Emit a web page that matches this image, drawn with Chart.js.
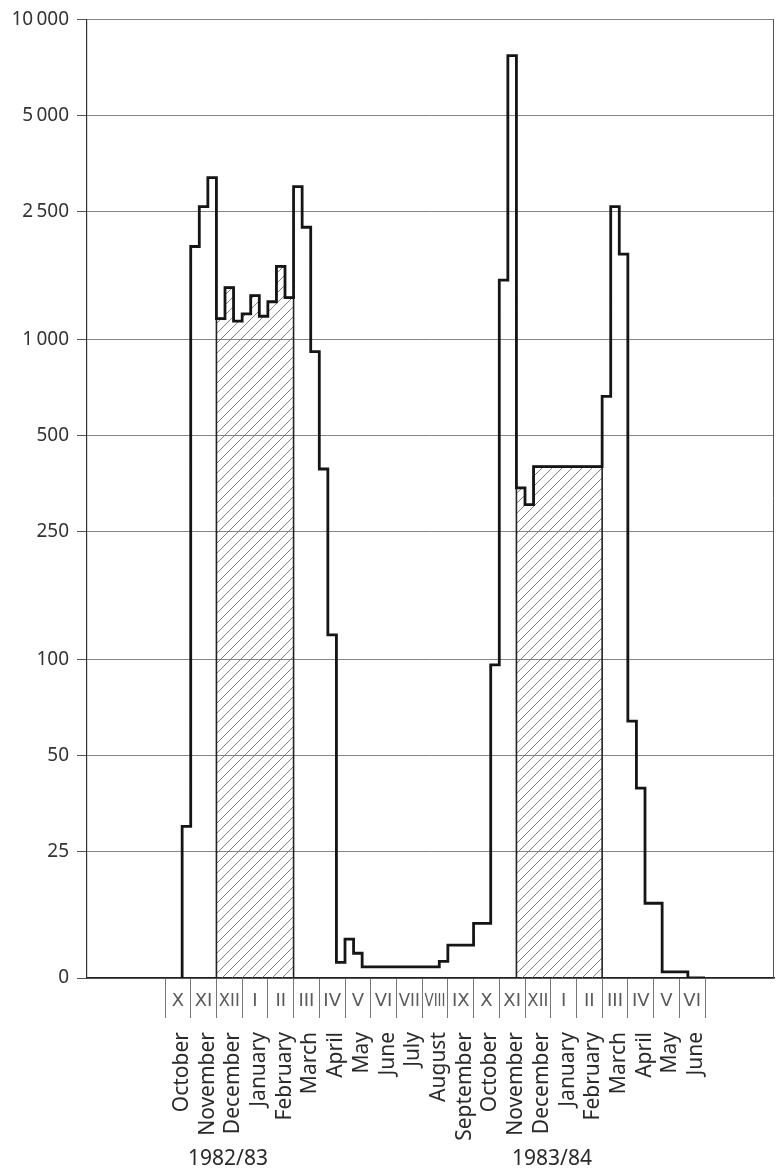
<!DOCTYPE html>
<html>
<head>
<meta charset="utf-8">
<title>Ten-day counts 1982/83 - 1983/84</title>
<script src="https://cdn.jsdelivr.net/npm/chart.js@4.4.1/dist/chart.umd.min.js"></script>
<style>
  html, body { margin: 0; padding: 0; background: #fff; }
  #wrap { position: relative; width: 776px; height: 1174px; }
</style>
</head>
<body>
<div id="wrap"><canvas id="countChart"></canvas></div>
<script>
const monthNames = [
  "October", "November", "December", "January", "February", "March", "April",
  "May", "June", "July", "August", "September",
  "October", "November", "December", "January", "February", "March", "April",
  "May", "June",
];
const romanMonths = [
  "X", "XI", "XII", "I", "II", "III", "IV", "V", "VI", "VII", "VIII", "IX",
  "X", "XI", "XII", "I", "II", "III", "IV", "V", "VI",
];
const seasonLabels = ["1982/83", "1983/84"];
const yTicks = [0, 25, 50, 100, 250, 500, 1000, 2500, 5000, 10000];

// one value per ten-day period, starting with the first third of October 1982
const tenDayCounts = [
  0, 0, 30,
  1950, 2600, 3200,
  1160, 1450, 1140,
  1200, 1370, 1180,
  1310, 1690, 1350,
  3000, 2240, 915,
  393, 119, 3.1,
  7.7, 4.9, 2.2,
  2.2, 2.2, 2.2,
  2.2, 2.2, 2.2,
  2.2, 2.2, 3.3,
  6.5, 6.5, 6.5,
  10.8, 10.8, 96,
  1530, 7700, 343,
  304, 400, 400,
  400, 400, 400,
  400, 400, 400,
  663, 2600, 1845,
  64, 39.5, 14.8,
  14.8, 1.2, 1.2,
  1.2, 0, 0,
];

// hatched winter periods, in ten-day indexes [from, to)
const hatchedSpans = [[6, 15], [41, 51]];

const Y_BREAK = 25;
const LINEAR_SHARE = 127 / 964;

class BrokenLogScale extends Chart.LinearScale {
  buildTicks() {
    return yTicks.map((v) => ({ value: v }));
  }
  toDecimal(v) {
    if (v <= Y_BREAK) return (Math.max(v, 0) / Y_BREAK) * LINEAR_SHARE;
    return (
      LINEAR_SHARE +
      ((1 - LINEAR_SHARE) * Math.log10(v / Y_BREAK)) / Math.log10(this.max / Y_BREAK)
    );
  }
  getPixelForValue(v) {
    return this.getPixelForDecimal(this.toDecimal(v));
  }
  getValueForPixel(p) {
    const d = this.getDecimalForPixel(p);
    if (d <= LINEAR_SHARE) return (d / LINEAR_SHARE) * Y_BREAK;
    return Y_BREAK * Math.pow(this.max / Y_BREAK, (d - LINEAR_SHARE) / (1 - LINEAR_SHARE));
  }
}
BrokenLogScale.id = "brokenLog";
Chart.register(BrokenLogScale);

function formatTick(v) {
  if (v >= 1000) {
    const s = String(v);
    return s.slice(0, s.length - 3) + "\u2009" + s.slice(-3);
  }
  return String(v);
}

function makeHatch(ctx) {
  const c = document.createElement("canvas");
  c.width = 10;
  c.height = 10;
  const g = c.getContext("2d");
  g.strokeStyle = "#707070";
  g.lineWidth = 0.9;
  g.beginPath();
  g.moveTo(0, 10);
  g.lineTo(10, 0);
  g.moveTo(-5, 5);
  g.lineTo(5, -5);
  g.moveTo(5, 15);
  g.lineTo(15, 5);
  g.stroke();
  return ctx.createPattern(c, "repeat");
}

function mainLinePoints() {
  const first = tenDayCounts.findIndex((v) => v > 0);
  const pts = [{ x: first, y: 0 }];
  for (let i = first; i < tenDayCounts.length; i++) {
    pts.push({ x: i, y: tenDayCounts[i] });
  }
  pts.push({ x: tenDayCounts.length, y: 0 });
  return pts;
}

function hatchPoints(span) {
  const [a, b] = span;
  const pts = [{ x: a, y: 0 }];
  for (let i = a; i < b; i++) pts.push({ x: i, y: tenDayCounts[i] });
  pts.push({ x: b, y: 0 });
  return pts;
}

const seasonLabelAt = [7.35, 45.15];

const axisTextPlugin = {
  id: "axisText",
  afterDraw(chart) {
    const { ctx, chartArea, scales } = chart;
    const xs = scales.x;
    const base = chartArea.bottom;

    ctx.save();
    ctx.strokeStyle = "#555";
    ctx.lineWidth = 1;
    ctx.beginPath();
    ctx.moveTo(chartArea.right - 0.5, chartArea.top);
    ctx.lineTo(chartArea.right - 0.5, chartArea.bottom);
    ctx.stroke();

    ctx.fillStyle = "#5a5a5a";
    ctx.font = '18px "DejaVu Sans"';
    ctx.textAlign = "center";
    ctx.textBaseline = "middle";
    romanMonths.forEach((r, i) => {
      const cx = xs.getPixelForValue(i * 3 + 1.5);
      const w = ctx.measureText(r).width;
      const maxW = 21;
      ctx.save();
      ctx.translate(cx, base + 23);
      if (w > maxW) ctx.scale(maxW / w, 1);
      ctx.fillText(r, 0, 0);
      ctx.restore();
    });

    ctx.fillStyle = "#2a2a2a";
    ctx.font = '21px "Noto Sans"';
    ctx.textAlign = "right";
    ctx.textBaseline = "alphabetic";
    monthNames.forEach((m, i) => {
      const cx = xs.getPixelForValue(i * 3 + 1.5);
      ctx.save();
      ctx.translate(cx + 10, base + 54);
      ctx.rotate(-Math.PI / 2);
      ctx.fillText(m, 0, 0);
      ctx.restore();
    });

    ctx.textAlign = "center";
    ctx.textBaseline = "middle";
    seasonLabels.forEach((s, i) => {
      ctx.fillText(s, xs.getPixelForValue(seasonLabelAt[i]), base + 181);
    });
    ctx.restore();
  },
};

const canvas = document.getElementById("countChart");
const hatch = makeHatch(canvas.getContext("2d"));

const datasets = [
  {
    data: mainLinePoints(),
    stepped: "before",
    borderColor: "#151515",
    borderWidth: 2.8,
    borderJoinStyle: "miter",
    pointRadius: 0,
    fill: false,
  },
];
hatchedSpans.forEach((span) => {
  datasets.push({
    data: hatchPoints(span),
    stepped: "before",
    borderColor: "#222",
    borderWidth: 1.6,
    backgroundColor: hatch,
    pointRadius: 0,
    fill: "origin",
  });
});

const monthBoundaries = [];
for (let i = 0; i <= romanMonths.length; i++) monthBoundaries.push(i * 3);

new Chart(canvas, {
  type: "line",
  data: { datasets },
  options: {
    responsive: true,
    maintainAspectRatio: false,
    animation: false,
    layout: { padding: { top: 14, right: 2, left: 0, bottom: 0 } },
    plugins: {
      legend: { display: false },
      tooltip: { enabled: false },
    },
    scales: {
      x: {
        type: "linear",
        min: -9.1,
        max: 71.05,
        afterBuildTicks: (s) => {
          s.ticks = monthBoundaries.map((v) => ({ value: v }));
        },
        afterFit: (s) => {
          s.height = 196;
        },
        ticks: { display: false },
        grid: {
          drawOnChartArea: false,
          drawTicks: true,
          tickLength: 40,
          tickColor: "#777",
          tickWidth: 1,
        },
        border: { display: true, color: "#222", width: 1.5 },
      },
      y: {
        type: "brokenLog",
        min: 0,
        max: 10000,
        afterFit: (s) => {
          s.width = 87;
        },
        ticks: {
          autoSkip: false,
          padding: 8,
          color: "#333",
          font: { family: "Noto Sans", size: 19 },
          callback: (v) => formatTick(v),
        },
        grid: {
          color: "#858585",
          lineWidth: 1,
          tickLength: 10,
          tickColor: "#555",
        },
        border: { display: true, color: "#333", width: 1.2 },
      },
    },
  },
  plugins: [axisTextPlugin],
});
</script>
</body>
</html>
